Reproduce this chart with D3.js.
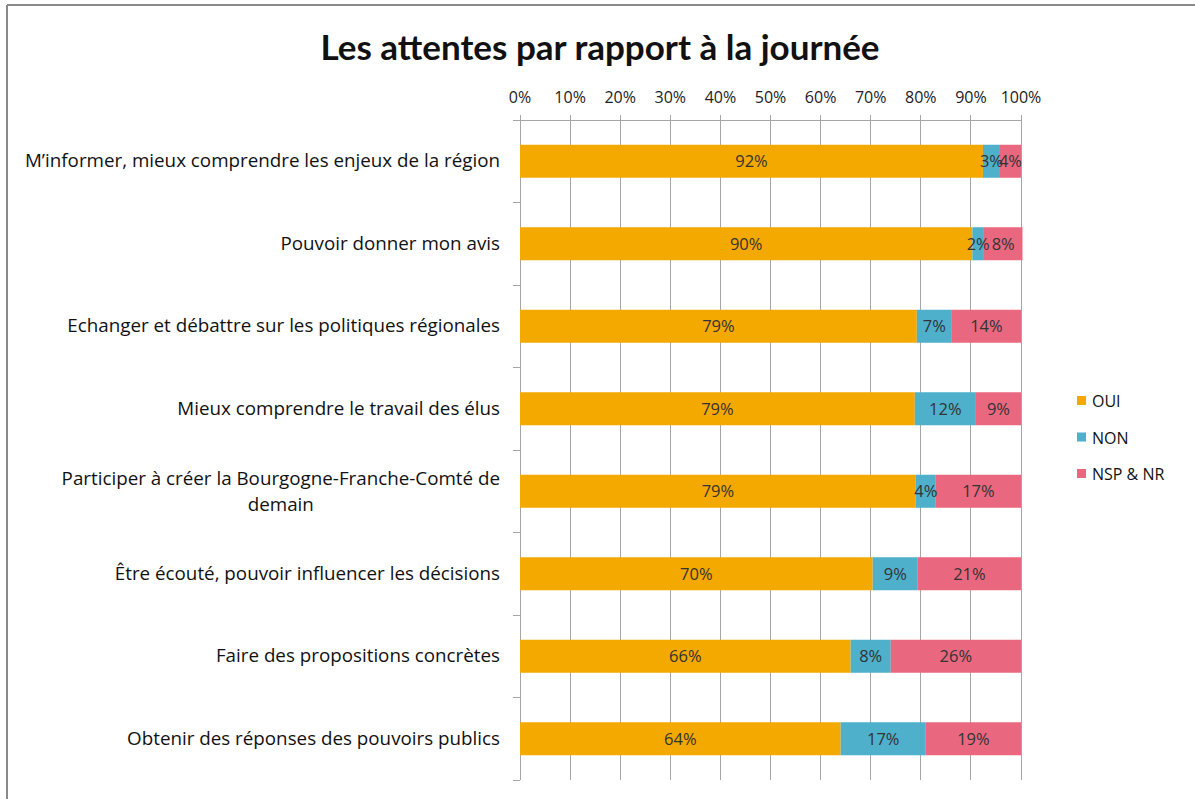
<!DOCTYPE html>
<html><head><meta charset="utf-8">
<script src="https://cdn.jsdelivr.net/npm/d3@7/dist/d3.min.js"></script>
<style>body{margin:0;background:#fff}svg{display:block}</style>
</head><body>
<svg id="c" width="1195" height="799"></svg>
<script>
const title = "Les attentes par rapport à la journée";
const categories = [
  ["M\u2019informer, mieux comprendre les enjeux de la région"],
  ["Pouvoir donner mon avis"],
  ["Echanger et débattre sur les politiques régionales"],
  ["Mieux comprendre le travail des élus"],
  ["Participer à créer la Bourgogne-Franche-Comté de", "demain"],
  ["Être écouté, pouvoir influencer les décisions"],
  ["Faire des propositions concrètes"],
  ["Obtenir des réponses des pouvoirs publics"]
];
const seriesNames = ["OUI", "NON", "NSP & NR"];
const oui = [92.4, 90.3, 79.2, 78.8, 79.0, 70.4, 66.0, 64.0];
const non = [3.4, 2.3, 7.0, 12.2, 4.0, 9.0, 8.0, 17.0];
const nsp = [4.2, 7.7, 13.8, 9.0, 17.0, 20.6, 26.0, 19.0];
const tickValues = [0, 10, 20, 30, 40, 50, 60, 70, 80, 90, 100];
const colors = ["#F4A900", "#4EB0CB", "#E9687F"];

const svg = d3.select("#c");
const font = "'Open Sans', Lato, sans-serif";
const tfont = "Lato, 'Open Sans', sans-serif";
const M = {l: 520, r: 1021, t: 120, b: 780};

// border
svg.append("line").attr("x1",7).attr("x2",7).attr("y1",5).attr("y2",799).attr("stroke","#8a8a8a").attr("stroke-width",2);
svg.append("line").attr("x1",7).attr("x2",1195).attr("y1",5).attr("y2",5).attr("stroke","#8a8a8a").attr("stroke-width",2);

svg.append("text").attr("x",600).attr("y",60).attr("text-anchor","middle")
  .attr("font-family",tfont).attr("font-weight","bold").attr("font-size",35).attr("fill","#111").text(title);

const x = d3.scaleLinear().domain([0,100]).range([M.l, M.r]);
const y = d3.scaleBand().domain(d3.range(categories.length)).range([M.t, M.b]).paddingInner(0.6).paddingOuter(0.3);
const yb = d3.scaleBand().domain(d3.range(categories.length)).range([M.t, M.b]);

// gridlines
svg.append("g").selectAll("line").data(tickValues).join("line")
  .attr("x1",d=>x(d)).attr("x2",d=>x(d)).attr("y1",M.t-5).attr("y2",M.b)
  .attr("stroke","#a6a6a6").attr("stroke-width",1).attr("shape-rendering","crispEdges");
svg.append("line").attr("x1",M.l-7).attr("x2",M.r).attr("y1",M.t).attr("y2",M.t).attr("stroke","#a6a6a6").attr("shape-rendering","crispEdges");
// left axis ticks
svg.append("g").selectAll("line").data(d3.range(categories.length+1)).join("line")
  .attr("x1",M.l-7).attr("x2",M.l).attr("y1",i=>i<categories.length?yb(i):M.b).attr("y2",i=>i<categories.length?yb(i):M.b)
  .attr("stroke","#a6a6a6").attr("shape-rendering","crispEdges");

// tick labels
svg.append("g").selectAll("text").data(tickValues).join("text")
  .attr("x",d=>x(d)).attr("y",103).attr("text-anchor","middle")
  .attr("font-family",font).attr("font-size",16).attr("fill","#222").text(d=>d+"%");

// stacks
const rows = categories.map((c,i)=>({i, OUI:oui[i], NON:non[i], "NSP & NR":nsp[i]}));
const stack = d3.stack().keys(seriesNames)(rows);
const g = svg.append("g");
stack.forEach((s,k)=>{
  g.selectAll(null).data(s).join("rect")
    .attr("x",d=>x(d[0])).attr("width",d=>x(d[1])-x(d[0]))
    .attr("y",d=>y(d.data.i)).attr("height",y.bandwidth()).attr("fill",colors[k]);
});
stack.forEach((s,k)=>{
  g.selectAll(null).data(s).join("text")
    .attr("x",d=>(x(d[0])+x(d[1]))/2).attr("y",d=>y(d.data.i)+y.bandwidth()/2+6)
    .attr("text-anchor","middle").attr("font-family",font).attr("font-size",16.5).attr("fill","#333")
    .text(d=>Math.round(d[1]-d[0])+"%");
});

// category labels
const cfs = 18.8;
categories.forEach((lines,i)=>{
  const cy = yb(i)+yb.bandwidth()/2;
  const n = lines.length;
  const t = svg.append("text").attr("font-family",font).attr("font-size",cfs).attr("fill","#111");
  if(n===1){
    t.attr("x",500).attr("y",cy+6).attr("text-anchor","end").text(lines[0]);
  } else {
    t.attr("x",500).attr("y",cy-12+6).attr("text-anchor","end").text(lines[0]);
    const w = t.node().getComputedTextLength();
    svg.append("text").attr("font-family",font).attr("font-size",cfs).attr("fill","#111")
      .attr("x",500-w/2).attr("y",cy+14+6).attr("text-anchor","middle").text(lines[1]);
  }
});

// legend
const lg = svg.append("g");
seriesNames.forEach((s,k)=>{
  const ly = 401 + k*36.5;
  lg.append("rect").attr("x",1077).attr("y",ly-5).attr("width",9).attr("height",9).attr("fill",colors[k]);
  lg.append("text").attr("x",1092).attr("y",ly+6).attr("font-family",font).attr("font-size",16).attr("fill","#111").text(s);
});
</script>
</body></html>
